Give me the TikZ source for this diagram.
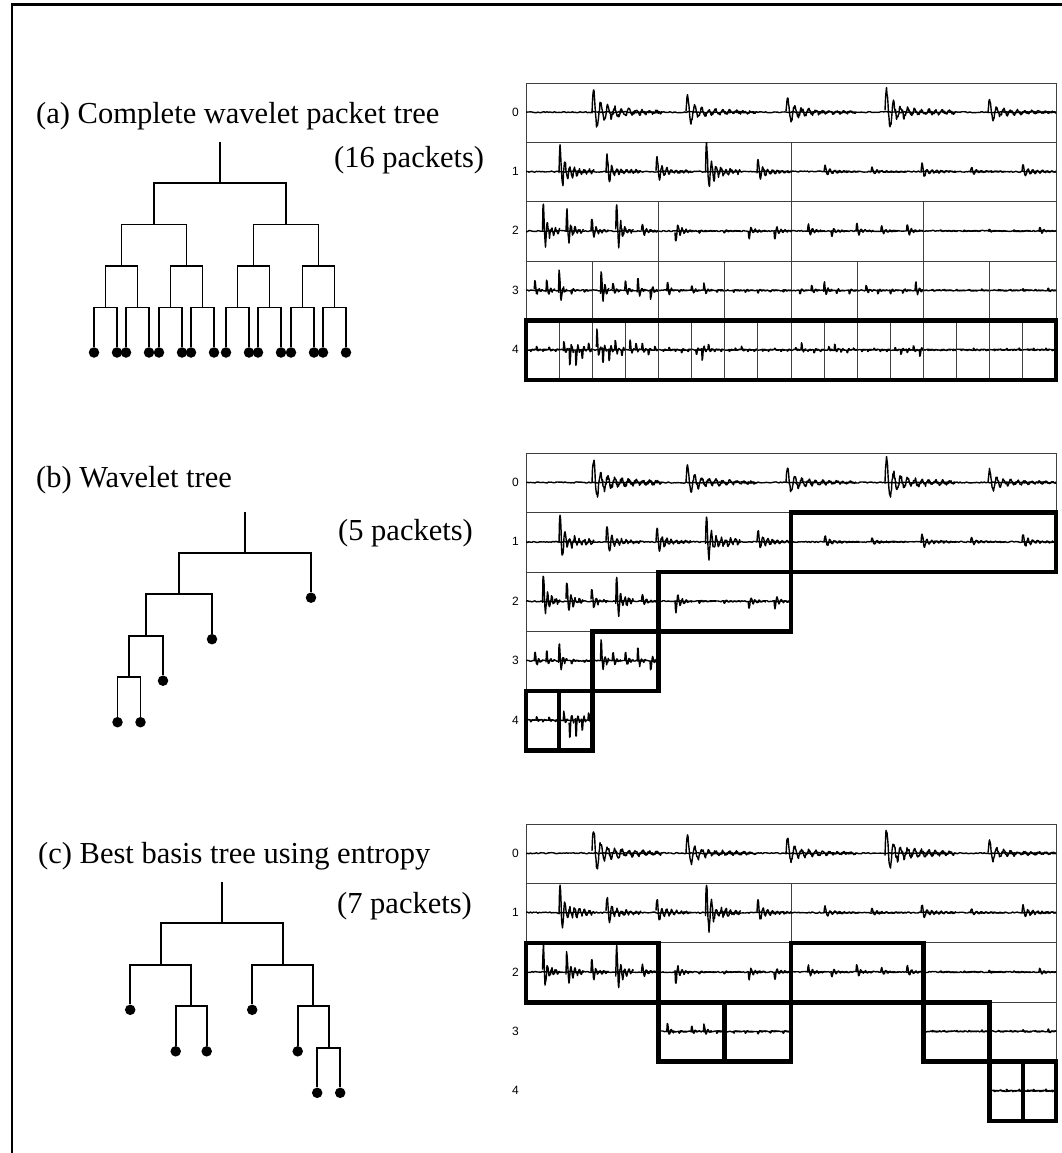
\documentclass[tikz,border=0pt]{standalone}
\usepackage{fontspec}
\setmainfont{Liberation Serif}
\newfontfamily\digitfont{Liberation Sans}

% event positions along a full row, and burst heights per packet (level-index)
\def\evts{{66,160,260,359,462}}
\expandafter\def\csname amp0-0\endcsname{-22,-16,-14,-22,-12}
\expandafter\def\csname amp1-0\endcsname{-26,-16,-14,-28,-12}
\expandafter\def\csname amp1-1\endcsname{-6,-4,-8,-4,-8}
\expandafter\def\csname amp2-0\endcsname{-28,-22,-14,-30,-8}
\expandafter\def\csname amp2-1\endcsname{12,2,2,8,8}
\expandafter\def\csname amp2-2\endcsname{-7,6,-8,-5,-7}
\expandafter\def\csname amp2-3\endcsname{-1,-1,-2,-1,-4}
\expandafter\def\csname amp3-0\endcsname{-12,-12,-22,4,2}
\expandafter\def\csname amp3-1\endcsname{-26,-10,-12,-14,10}
\expandafter\def\csname amp3-2\endcsname{-10,2,-6,-8,2}
\expandafter\def\csname amp3-3\endcsname{2,2,3,2,2}
\expandafter\def\csname amp3-4\endcsname{4,-6,-10,4,4}
\expandafter\def\csname amp3-5\endcsname{-6,4,4,4,-10}
\expandafter\def\csname amp3-6\endcsname{-1,-1,-1,-1,-1.5}
\expandafter\def\csname amp3-7\endcsname{-1,-1,-2,-1,-3}
\expandafter\def\csname amp4-0\endcsname{2,-4,2,-4,2}
\expandafter\def\csname amp4-1\endcsname{-10,22,20,12,-8}
\expandafter\def\csname amp4-2\endcsname{-24,18,14,-12,8}
\expandafter\def\csname amp4-3\endcsname{-12,-8,-8,6,-4}
\expandafter\def\csname amp4-4\endcsname{2,-3,2,4,2}
\expandafter\def\csname amp4-5\endcsname{6,12,-8,2,2}
\expandafter\def\csname amp4-6\endcsname{2,-2,-4,2,2}
\expandafter\def\csname amp4-7\endcsname{2,2,-2,2,2}
\expandafter\def\csname amp4-8\endcsname{-3,-8,2,4,2}
\expandafter\def\csname amp4-9\endcsname{-4,-8,3,4,-2}
\expandafter\def\csname amp4-10\endcsname{2,2,-2,2,2}
\expandafter\def\csname amp4-11\endcsname{-3,6,4,-5,8}
\expandafter\def\csname amp4-12\endcsname{1,1,1,1,1}
\expandafter\def\csname amp4-13\endcsname{1,1,-2,1,1}
\expandafter\def\csname amp4-14\endcsname{1,-1,-2,1,-2}
\expandafter\def\csname amp4-15\endcsname{-1,-2,1,-2,1}

% thin cell with its trace: \packet{grid top}{level}{index}
\newcommand\packet[3]{%
  \pgfmathsetmacro\cw{530/2^#2}%
  \pgfmathsetmacro\cx{526+#3*\cw}%
  \pgfmathsetmacro\cy{#1+59.4*#2}%
  \pgfmathsetmacro\basey{\cy+29.2}%
  \pgfmathsetmacro\dur{max(5,70/2^#2)}%
  \pgfmathsetmacro\per{2.6+4.4/(1+#2)}%
  \pgfmathtruncatemacro\ns{2*\dur+1}%
  \pgfmathtruncatemacro\nb{\cw/1.5+2}%
  \draw[cell] (\cx,\cy) rectangle ++(\cw,59.4);
  \begin{scope}
    \clip (\cx,\cy) rectangle ++(\cw,59.4);
    \draw[trace] plot[domain=\cx:\cx+\cw,samples=\nb] (\x,{\basey+0.6*rand});
    \expandafter\let\expandafter\amps\csname amp#2-#3\endcsname
    \foreach \a [count=\k from 0] in \amps {
      \pgfmathsetmacro\bx{\cx+\evts[\k]/2^#2}
      \draw[trace] plot[domain=0:\dur,samples=\ns]
        ({\bx+\x},{\basey+burst(\x,\a,\dur,\per)+0.15*\a*rand*exp(-\x/\dur)});
    }
  \end{scope}}

% thick outline of a kept packet: \chosen{grid top}{level}{index}
\newcommand\chosen[3]{%
  \pgfmathsetmacro\cw{530/2^#2}%
  \pgfmathsetmacro\cx{526+#3*\cw}%
  \pgfmathsetmacro\cy{#1+59.4*#2}%
  \draw[kept] (\cx,\cy) rectangle ++(\cw,59.4);}

\begin{document}
\begin{tikzpicture}[x=1pt,y=-1pt,
    declare function={burst(\s,\h,\w,\p)=1.15*\h*(0.9*exp(-\s/(0.05*\w+1))+0.3*exp(-\s/(0.5*\w)))*sin(\s/\p*360);},
    title/.style={anchor=base west,inner sep=0pt,font=\fontsize{30.5}{36}\selectfont},
    rowlbl/.style={inner sep=0pt,font=\digitfont\fontsize{12}{14}\selectfont},
    cell/.style={draw=black!75,line width=0.8pt},
    trace/.style={line width=1.4pt,line join=round},
    kept/.style={line width=4.6pt},
    branch/.style={line width=1.7pt},
    fork/.style={coordinate},
    leaf/.style={circle,fill,inner sep=0pt,minimum size=10.5pt,yshift=-3.5pt},
    level distance=41.5pt,
    edge from parent/.style={draw,branch},
    edge from parent path={(\tikzparentnode) -| (\tikzchildnode)}]
  \pgfmathsetseed{11}
  \useasboundingbox (0,0) rectangle (1062,1153);
  \draw[line width=2.6pt] (12,1153) -- (12,4.7) -- (1062,4.7);

  % (a) complete wavelet packet tree
  \node[title] (capa) at (36,124) {(a) Complete wavelet packet tree};
  \node[title] (cnta) at (334,167) {(16 packets)};
  \begin{scope}[level 1/.style={sibling distance=132pt},
      level 2/.style={sibling distance=65pt},
      level 3/.style={sibling distance=32pt},
      level 4/.style={sibling distance=23pt}]
    \coordinate (ta0) at (220,141.7);
    \node[fork] (ta) at (220,183) {}
      child foreach \i in {1,2} {node[fork] {}
        child foreach \j in {1,2} {node[fork] {}
          child foreach \k in {1,2} {node[fork] {}
            child foreach \m in {1,2} {node[leaf] {}}}}};
    \draw[branch] (ta0) -- (ta);
  \end{scope}
  \foreach \L in {0,...,4} {
    \node[rowlbl] (la\L) at (515.5,{83+59.4*\L+29}) {\L};
    \pgfmathtruncatemacro\last{2^\L-1}
    \foreach \I in {0,...,\last} {\packet{83}{\L}{\I}}
  }
  \draw[kept] (526,{83+4*59.4}) rectangle (1056,{83+5*59.4});

  % (b) wavelet tree
  \node[title] (capb) at (36,487) {(b) Wavelet tree};
  \node[title] (cntb) at (338,540) {(5 packets)};
  \begin{scope}[level 1/.style={sibling distance=132pt},
      level 2/.style={sibling distance=66pt},
      level 3/.style={sibling distance=34pt},
      level 4/.style={sibling distance=23pt}]
    \coordinate (tb0) at (245,511.7);
    \node[fork] (tb) at (245,552.7) {}
      child {node[fork] {}
        child {node[fork] {}
          child {node[fork] {}
            child {node[leaf] {}}
            child {node[leaf] {}}}
          child {node[leaf] {}}}
        child {node[leaf] {}}}
      child {node[leaf] {}};
    \draw[branch] (tb0) -- (tb);
  \end{scope}
  \foreach \L in {0,...,4}
    \node[rowlbl] (lb\L) at (515.5,{453.3+59.4*\L+29}) {\L};
  \foreach \L/\I in {0/0,1/0,1/1,2/0,2/1,3/0,3/1,4/0,4/1} {\packet{453.3}{\L}{\I}}
  \foreach \L/\I in {1/1,2/1,3/1,4/0,4/1} {\chosen{453.3}{\L}{\I}}

  % (c) best basis tree
  \node[title] (capc) at (38,863) {(c) Best basis tree using entropy};
  \node[title] (cntc) at (337,913) {(7 packets)};
  \begin{scope}[level 1/.style={sibling distance=122pt},
      level 2/.style={sibling distance=61pt},
      level 3/.style={sibling distance=31pt},
      level 4/.style={sibling distance=23pt}]
    \coordinate (tc0) at (221.7,881.7);
    \node[fork] (tc) at (221.7,923.3) {}
      child {node[fork] {}
        child {node[leaf] {}}
        child {node[fork] {}
          child {node[leaf] {}}
          child {node[leaf] {}}}}
      child {node[fork] {}
        child {node[leaf] {}}
        child {node[fork] {}
          child {node[leaf] {}}
          child {node[fork] {}
            child {node[leaf] {}}
            child {node[leaf] {}}}}};
    \draw[branch] (tc0) -- (tc);
  \end{scope}
  \foreach \L in {0,...,4}
    \node[rowlbl] (lc\L) at (515.5,{824+59.4*\L+29}) {\L};
  \foreach \L/\I in {0/0,1/0,1/1,2/0,2/1,2/2,2/3,3/2,3/3,3/6,3/7,4/14,4/15} {\packet{824}{\L}{\I}}
  \foreach \L/\I in {2/0,2/2,3/2,3/3,3/6,4/14,4/15} {\chosen{824}{\L}{\I}}
\end{tikzpicture}
\end{document}
